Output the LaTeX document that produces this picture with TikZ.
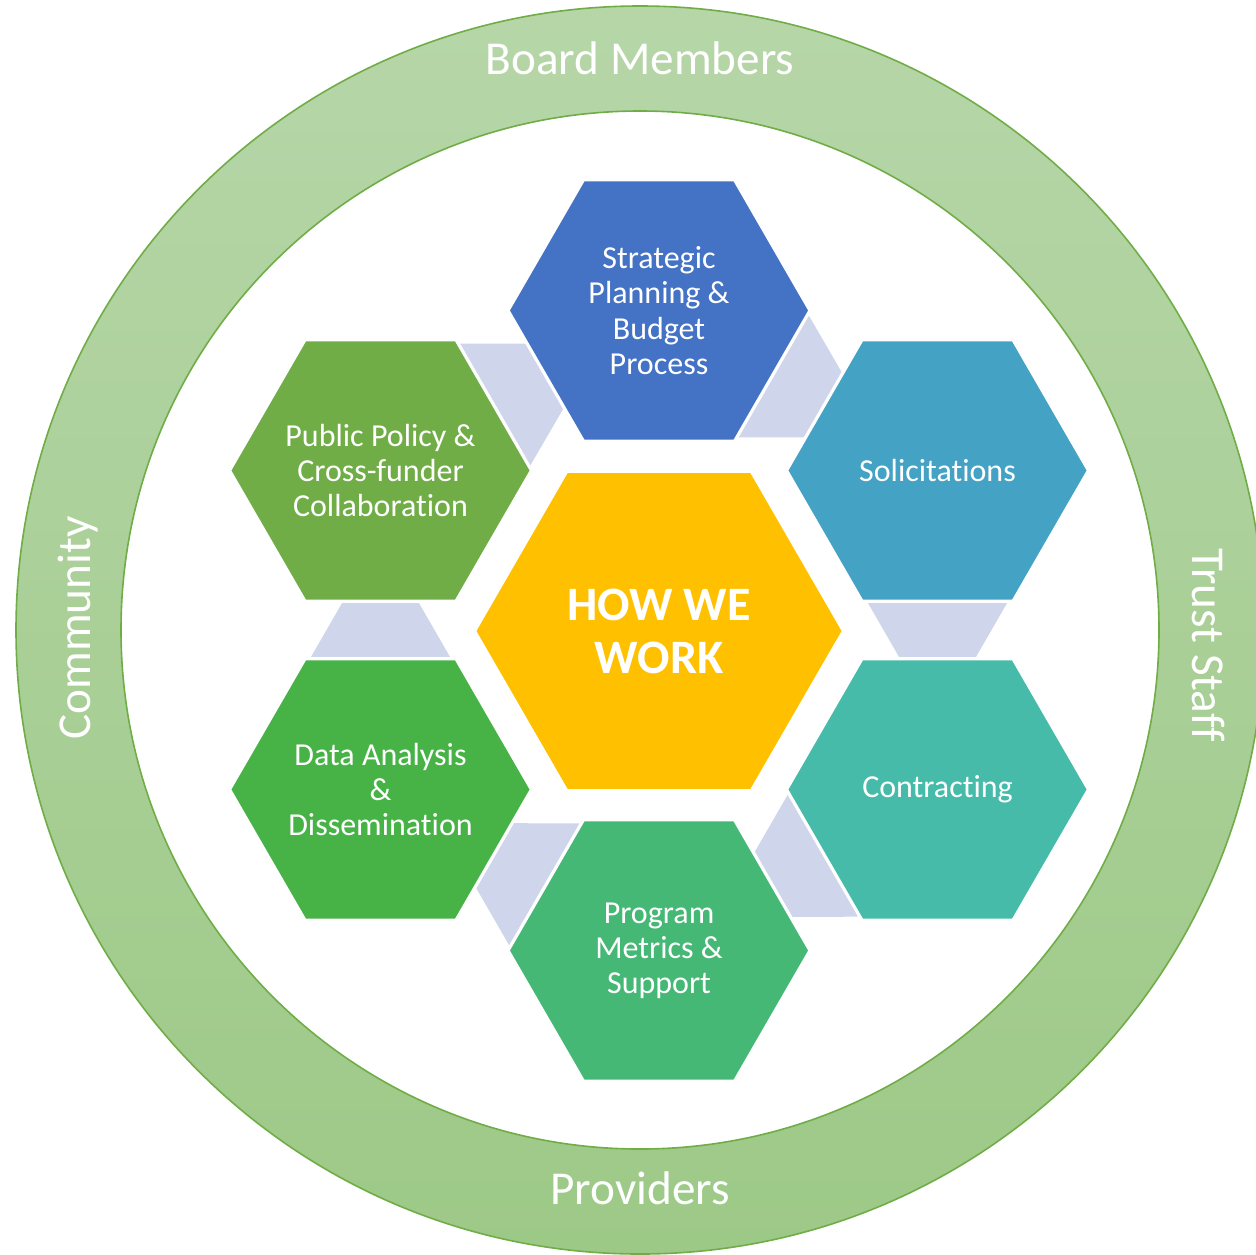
\documentclass[tikz,border=0pt]{standalone}
\usepackage{fontspec}
\setmainfont{Carlito}[Ligatures={NoCommon}]
\usetikzlibrary{calc}
\definecolor{cStrat}{HTML}{4472C4}
\definecolor{cSolic}{HTML}{44A2C4}
\definecolor{cContr}{HTML}{46BBA9}
\definecolor{cProg}{HTML}{46B876}
\definecolor{cData}{HTML}{47B347}
\definecolor{cPolicy}{HTML}{70AD47}
\definecolor{cCenter}{HTML}{FFC000}
\definecolor{cConn}{HTML}{CFD5EA}
\definecolor{ringTop}{HTML}{B6D6A8}
\definecolor{ringBot}{HTML}{9DC987}
\definecolor{ringLine}{HTML}{70AD47}
\tikzset{
  hexbox/.style={draw=white, line width=1.6pt, line join=miter},
  connbox/.style={fill=cConn},
  hextext/.style={text=white, align=center, font=\fontsize{16}{17.6}\selectfont, inner sep=0pt},
  centertext/.style={text=white, align=center, font=\bfseries\fontsize{24}{26.5}\selectfont, inner sep=0pt},
  ringtext/.style={text=white, font=\fontsize{23.6}{28}\selectfont, inner sep=0pt},
}
\newcommand{\hexshape}[3]{\filldraw[hexbox, fill=#3, shift={(#1)}] (0:#2) -- (60:#2) -- (120:#2) -- (180:#2) -- (240:#2) -- (300:#2) -- cycle;}
\newcommand{\connshape}[2]{%
  \path ($(#1)!0.5!(#2)$) coordinate (cm);
  \path ($(cm)!30pt!(#1)$) coordinate (ca);
  \path ($(cm)!30pt!(#2)$) coordinate (cb);
  \fill[connbox] ($(ca)!44.3pt!90:(cm)$) -- ($(ca)!44.3pt!-90:(cm)$) -- ($(cb)!9.7pt!90:(cm)$) -- ($(cb)!9.7pt!-90:(cm)$) -- cycle;
}
\begin{document}
\begin{tikzpicture}[x=0.5pt,y=-0.5pt]
\useasboundingbox (0,0) rectangle (1256,1254);
\clip (0,0) rectangle (1256,1254);
% ring
\shade[even odd rule, top color=ringTop, bottom color=ringBot] (640,630) circle (624) (640,630) circle (519);
\draw[ringLine, line width=0.8pt] (640,630) circle (624) (640,630) circle (519);
\node[ringtext, anchor=base] (board) at (640,74) {Board Members};
\node[ringtext, anchor=base] (prov) at (640,1204) {Providers};
\node[ringtext, anchor=base, rotate=90] (comm) at (90,628) {Community};
\node[ringtext, anchor=base, rotate=-90] (trust) at (1192,645) {Trust Staff};
% hex centres
\coordinate (S) at (659,310.5);
\coordinate (So) at (937.5,470.5);
\coordinate (Co) at (937.5,789.5);
\coordinate (P) at (659,950.5);
\coordinate (D) at (380.5,789.5);
\coordinate (PP) at (380.5,470.5);
\coordinate (C) at (659,631);
% connectors
\connshape{S}{So}
\connshape{So}{Co}
\connshape{Co}{P}
\connshape{P}{D}
\connshape{D}{PP}
\connshape{PP}{S}
% hexagons
\hexshape{S}{151}{cStrat}
\hexshape{So}{151}{cSolic}
\hexshape{Co}{151}{cContr}
\hexshape{P}{151}{cProg}
\hexshape{D}{151}{cData}
\hexshape{PP}{151}{cPolicy}
\hexshape{C}{184.5}{cCenter}
% texts
\node[hextext] (tS) at (S) {Strategic\\Planning \&\\Budget\\Process};
\node[hextext] (tSo) at (So) {Solicitations};
\node[hextext] (tCo) at (Co) {Contracting};
\node[hextext] (tP) at (P) {Program\\Metrics \&\\Support};
\node[hextext] (tD) at (D) {Data Analysis\\\&\\Dissemination};
\node[hextext] (tPP) at (PP) {Public Policy \&\\Cross-funder\\Collaboration};
\node[centertext] (tC) at (C) {HOW WE\\WORK};
\end{tikzpicture}
\end{document}
